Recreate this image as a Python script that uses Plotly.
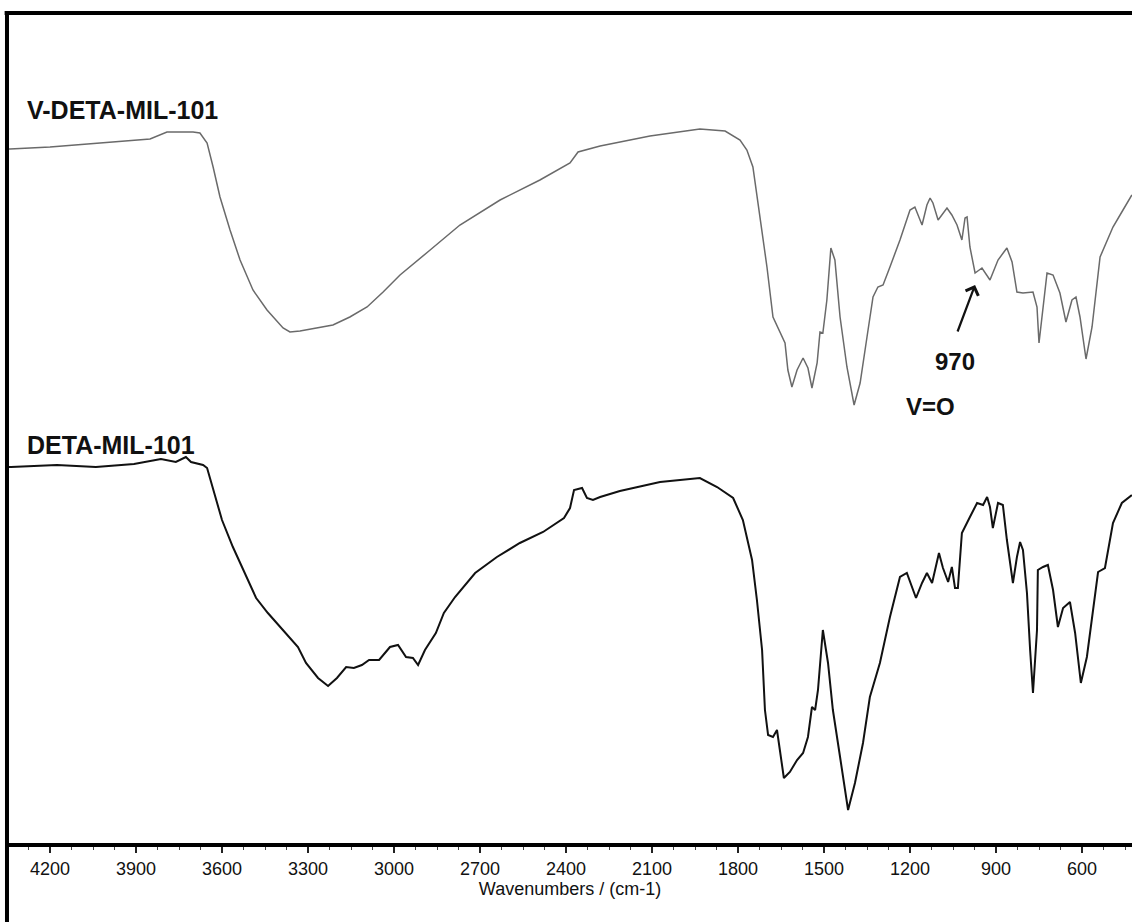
import plotly.graph_objects as go

# ---- data (wavenumber in cm-1, transmittance in a.u.) ----
v_deta_wn = [4347, 4340, 4200, 4026, 3851, 3792, 3701, 3677, 3652, 3631, 3607, 3572, 3537, 3492,
             3443, 3387, 3363, 3328, 3213, 3154, 3094, 3038, 2979, 2874, 2770, 2630, 2491, 2386,
             2358, 2281, 2107, 1933, 1845, 1793, 1769, 1748, 1723, 1699, 1678, 1654, 1636, 1626,
             1612, 1594, 1573, 1556, 1542, 1524, 1514, 1504, 1490, 1476, 1462, 1444, 1420, 1395,
             1374, 1350, 1329, 1312, 1294, 1270, 1235, 1200, 1183, 1158, 1141, 1130, 1120, 1102,
             1071, 1054, 1036, 1019, 1008, 1001, 991, 973, 949, 921, 893, 862, 844, 827, 806, 771,
             757, 750, 736, 722, 701, 677, 656, 635, 621, 607, 586, 565, 537, 492, 457, 426]
v_deta_t = [69.4, 69.4, 69.6, 70.0, 70.4, 71.1, 71.1, 71.0, 70.0, 67.6, 64.6, 61.3, 58.3, 55.3,
            53.3, 51.5, 51.1, 51.2, 51.8, 52.6, 53.6, 55.1, 56.8, 59.3, 61.8, 64.3, 66.3, 68.0,
            69.1, 69.7, 70.7, 71.4, 71.2, 70.3, 69.3, 67.6, 62.6, 57.6, 52.6, 51.1, 50.0, 47.3,
            45.6, 47.3, 48.5, 47.5, 45.5, 48.0, 51.1, 51.0, 54.3, 59.5, 58.3, 52.6, 47.6, 43.8,
            46.0, 50.6, 54.6, 55.6, 55.8, 57.6, 60.3, 63.3, 63.6, 61.8, 63.8, 64.5, 64.0, 62.3,
            63.5, 62.8, 61.8, 60.3, 62.5, 62.6, 59.6, 57.0, 57.5, 56.3, 58.3, 59.5, 58.1, 55.1,
            55.0, 55.1, 53.6, 50.0, 53.6, 57.0, 56.8, 55.0, 52.1, 54.3, 54.6, 52.6, 48.4, 51.6,
            58.6, 61.6, 63.3, 64.8]

deta_wn = [4347, 4336, 4176, 4040, 3907, 3813, 3761, 3726, 3708, 3666, 3652, 3628, 3600, 3562,
           3520, 3481, 3440, 3387, 3335, 3307, 3265, 3230, 3199, 3167, 3140, 3112, 3087, 3052,
           3014, 2986, 2958, 2934, 2916, 2892, 2854, 2826, 2787, 2717, 2641, 2561, 2480, 2407,
           2386, 2372, 2344, 2327, 2306, 2281, 2212, 2072, 1933, 1873, 1817, 1783, 1751, 1734,
           1716, 1706, 1695, 1678, 1664, 1654, 1640, 1619, 1594, 1573, 1556, 1542, 1531, 1521,
           1504, 1486, 1469, 1444, 1416, 1392, 1364, 1340, 1305, 1270, 1235, 1211, 1179, 1158,
           1141, 1123, 1099, 1085, 1067, 1054, 1043, 1033, 1019, 991, 966, 945, 931, 921, 911,
           893, 876, 862, 841, 827, 816, 806, 792, 781, 771, 757, 754, 736, 719, 701, 684, 666,
           642, 624, 604, 583, 562, 544, 520, 492, 461, 440, 426]
deta_t = [37.6, 37.6, 37.8, 37.6, 37.9, 38.4, 38.1, 38.6, 38.1, 37.8, 37.5, 35.0, 32.3, 29.6,
          27.0, 24.5, 23.0, 21.3, 19.6, 18.0, 16.5, 15.7, 16.5, 17.6, 17.5, 17.8, 18.3, 18.3,
          19.6, 19.8, 18.6, 18.5, 17.8, 19.3, 21.0, 23.0, 24.6, 27.0, 28.6, 30.0, 31.1, 32.5,
          33.5, 35.3, 35.5, 34.5, 34.3, 34.6, 35.2, 36.1, 36.5, 35.6, 34.5, 32.3, 28.3, 24.3,
          19.3, 13.3, 10.8, 10.6, 11.3, 9.3, 6.5, 7.1, 8.3, 9.0, 10.6, 13.6, 13.3, 15.3,
          21.3, 18.0, 13.3, 8.6, 3.3, 6.0, 10.0, 14.6, 18.0, 22.6, 26.6, 27.0, 24.5, 26.0,
          27.0, 26.0, 29.0, 27.5, 26.1, 27.6, 25.5, 25.5, 31.0, 32.6, 34.0, 33.8, 34.6, 33.6, 31.5,
          34.0, 33.8, 30.3, 26.0, 28.6, 30.1, 29.3, 25.0, 19.3, 15.0, 21.3, 27.3, 27.6, 27.8, 25.3,
          21.6, 23.5, 24.1, 21.0, 16.0, 18.6, 23.3, 27.1, 27.5, 32.0, 34.0, 34.5, 34.8]

tick_vals = [4200, 3900, 3600, 3300, 3000, 2700, 2400, 2100, 1800, 1500, 1200, 900, 600]
tick_text = ["4200", "3900", "3600", "3300", "3000", "2700", "2400", "2100", "1800", "1500",
             "1200", "900", "600"]

FONT = "Arial, Liberation Sans, sans-serif"

fig = go.Figure()
fig.add_trace(go.Scatter(x=v_deta_wn, y=v_deta_t, mode="lines", name="V-DETA-MIL-101",
                         line=dict(color="#6a6a6a", width=1.5), showlegend=False))
fig.add_trace(go.Scatter(x=deta_wn, y=deta_t, mode="lines", name="DETA-MIL-101",
                         line=dict(color="#111111", width=2), showlegend=False))

fig.update_layout(
    width=1132, height=922,
    margin=dict(l=8, r=0, t=13, b=79),
    paper_bgcolor="white", plot_bgcolor="white",
    font=dict(family=FONT, color="black"),
    xaxis=dict(
        range=[4346.5, 425.6], autorange=False,
        tickmode="array", tickvals=tick_vals, ticktext=tick_text,
        ticks="outside", ticklen=6, tickwidth=1.5, tickcolor="#222",
        tickfont=dict(size=18, family=FONT, color="#111"),
        showline=True, linewidth=4, linecolor="black", mirror=False,
        showgrid=False, zeroline=False,
        minor=dict(tickmode="linear", tick0=600, dtick=75, ticks="outside", ticklen=3,
                   tickwidth=1.2, tickcolor="#444", showgrid=False),
        title=dict(text="Wavenumbers / (cm-1)", font=dict(size=18, family=FONT, color="#111"),
                   standoff=2),
    ),
    yaxis=dict(range=[0, 83], autorange=False, visible=False, showgrid=False, zeroline=False),
)

# outer frame (left and top lines of the scanned box)
fig.add_shape(type="line", xref="paper", yref="paper", x0=-0.0009, x1=-0.0009, y0=1.0, y1=-0.11,
              line=dict(color="black", width=4))
fig.add_shape(type="line", xref="paper", yref="paper", x0=-0.003, x1=1.01, y0=1.0, y1=1.0,
              line=dict(color="black", width=4))

# sample labels
fig.add_annotation(text="<b>V-DETA-MIL-101</b>", xref="paper", yref="paper", x=0.0151, y=0.883,
                   xanchor="left", yanchor="middle", showarrow=False,
                   font=dict(size=25, family=FONT, color="#111"))
fig.add_annotation(text="<b>DETA-MIL-101</b>", xref="paper", yref="paper", x=0.0151, y=0.4795,
                   xanchor="left", yanchor="middle", showarrow=False,
                   font=dict(size=25, family=FONT, color="#111"))

# peak annotation
fig.add_annotation(x=973, y=55.8, ax=1036, ay=51.0, xref="x", yref="y", axref="x", ayref="y",
                   text="", showarrow=True, arrowhead=4, arrowsize=1.2, arrowwidth=2.2,
                   arrowcolor="#111")
fig.add_annotation(text="<b>970</b>", x=1043, y=48.2, xref="x", yref="y", showarrow=False,
                   font=dict(size=24, family=FONT, color="#111"))
fig.add_annotation(text="<b>V=O</b>", x=1127, y=43.7, xref="x", yref="y", showarrow=False,
                   font=dict(size=24, family=FONT, color="#111"))

fig.write_html("out.html")
